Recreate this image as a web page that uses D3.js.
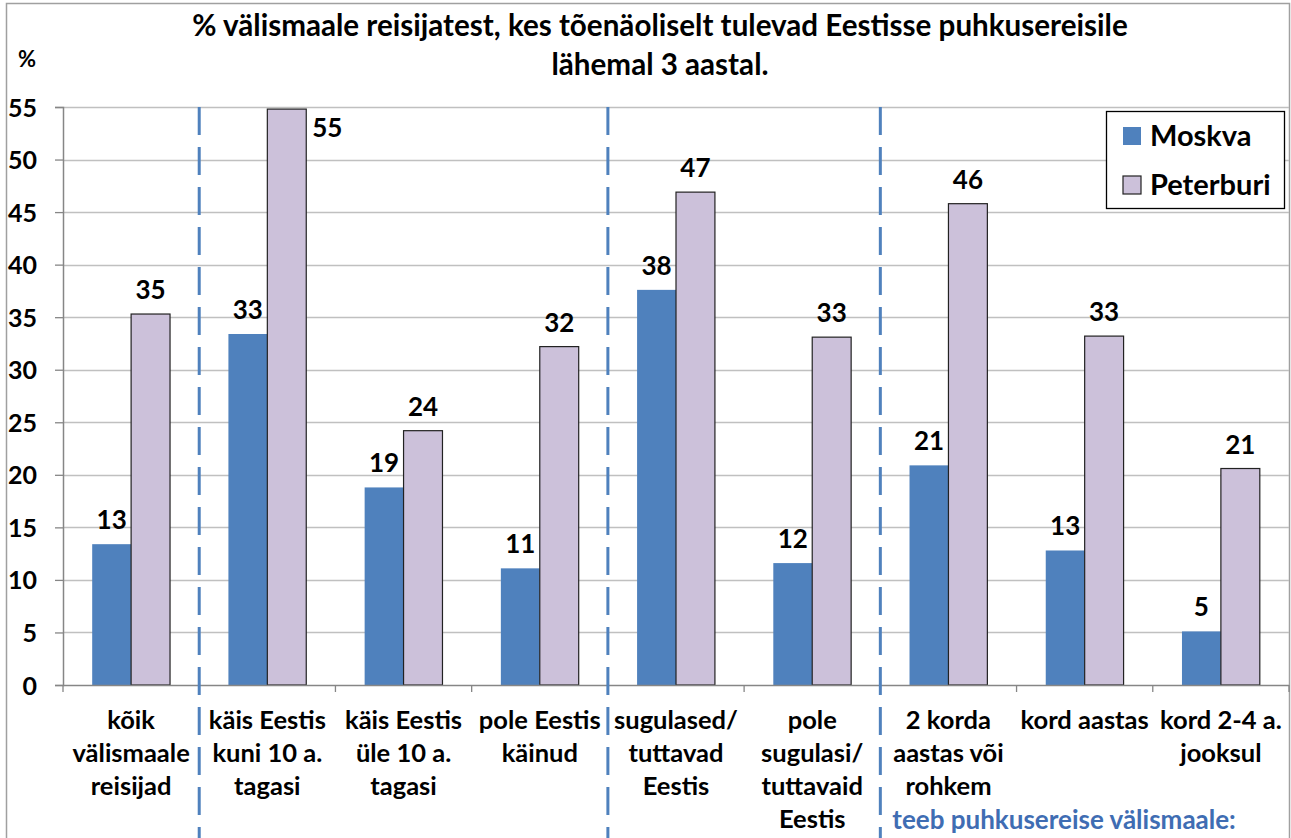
<!DOCTYPE html>
<html>
<head>
<meta charset="utf-8">
<script src="https://cdn.jsdelivr.net/npm/d3@7"></script>
<style>
  html, body { margin: 0; padding: 0; background: #fff; }
  svg { display: block; }
  text { font-family: Lato, "Open Sans", sans-serif; font-weight: bold; fill: #000; }
</style>
</head>
<body>
<svg id="chart" width="1291" height="838"></svg>
<script>
// Category labels (one entry per group, lines separated by "\n")
const categories = [
  "kõik\nvälismaale\nreisijad",
  "käis Eestis\nkuni 10 a.\ntagasi",
  "käis Eestis\nüle 10 a.\ntagasi",
  "pole Eestis\nkäinud",
  "sugulased/\ntuttavad\nEestis",
  "pole\nsugulasi/\ntuttavaid\nEestis",
  "2 korda\naastas või\nrohkem",
  "kord aastas",
  "kord 2-4 a.\njooksul"
];
const seriesNames = ["Moskva", "Peterburi"];
const moskva    = [13.4, 33.4, 18.8, 11.1, 37.6, 11.6, 20.9, 12.8, 5.1];
const peterburi = [35.3, 54.8, 24.2, 32.2, 46.9, 33.1, 45.8, 33.2, 20.6];
const yTicks = [0, 5, 10, 15, 20, 25, 30, 35, 40, 45, 50, 55];
// indices of group boundaries that get a dashed separator
const separators = [1, 4, 6];
const titleLines = [
  "% välismaale reisijatest, kes tõenäoliselt tulevad Eestisse puhkusereisile",
  "lähemal 3 aastal."
];
const groupNote = "teeb puhkusereise välismaale:";

const colors = { Moskva: "#4f81bd", Peterburi: "#ccc1da" };
const values = { Moskva: moskva, Peterburi: peterburi };

const svg = d3.select("#chart");
const W = 1291, H = 838;
const plot = { left: 63, right: 1289, top: 107, bottom: 685 };

// outer chart frame
svg.append("rect")
  .attr("x", 6.5).attr("y", 3.5)
  .attr("width", 1283).attr("height", H + 10)
  .attr("fill", "#fff").attr("stroke", "#a0a0a0").attr("stroke-width", 1.5);

const x0 = d3.scaleBand().domain(d3.range(categories.length))
  .range([plot.left, plot.right]).paddingInner(0).paddingOuter(0);
const x1 = d3.scaleBand().domain(seriesNames)
  .range([0, x0.bandwidth()]).paddingInner(0).paddingOuter(0.75);
const y = d3.scaleLinear().domain([0, 55]).range([plot.bottom, plot.top]);

// horizontal gridlines
svg.append("g").selectAll("line").data(yTicks.filter(d => d > 0)).join("line")
  .attr("x1", plot.left).attr("x2", plot.right)
  .attr("y1", d => Math.round(y(d)) + 0.5).attr("y2", d => Math.round(y(d)) + 0.5)
  .attr("stroke", "#c0c0c0").attr("stroke-width", 1.3);

// y axis
const yAxis = d3.axisLeft(y).tickValues(yTicks).tickSize(8).tickPadding(12).tickFormat(d3.format("d"));
const gy = svg.append("g").attr("transform", `translate(${plot.left},0)`).call(yAxis);
gy.select(".domain").attr("stroke", "#868686").attr("stroke-width", 1.5);
gy.selectAll(".tick line").attr("stroke", "#868686").attr("stroke-width", 1.3);
gy.selectAll(".tick text").attr("font-size", 25).attr("font-family", "Lato, sans-serif")
  .attr("font-weight", "bold").attr("fill", "#000").attr("x", -26).attr("dy", "0.36em");

// bars
const groups = svg.append("g").selectAll("g").data(categories).join("g")
  .attr("transform", (d, i) => `translate(${x0(i)},0)`);
groups.selectAll("rect").data((d, i) => seriesNames.map(s => ({ s, v: values[s][i] }))).join("rect")
  .attr("x", d => x1(d.s))
  .attr("width", x1.bandwidth())
  .attr("y", d => y(d.v))
  .attr("height", d => y(0) - y(d.v))
  .attr("fill", d => colors[d.s])
  .attr("stroke", d => d.s === "Peterburi" ? "#222" : "none")
  .attr("stroke-width", 1.2);

// value labels (a label that would hit the top edge moves beside its bar)
const beside = d => y(d.v) - 30 < plot.top;
groups.selectAll("text.val").data((d, i) => seriesNames.map(s => ({ s, v: values[s][i] }))).join("text")
  .attr("class", "val")
  .attr("font-size", 26)
  .attr("text-anchor", d => beside(d) ? "start" : "middle")
  .attr("x", d => beside(d) ? x1(d.s) + x1.bandwidth() + 6 : x1(d.s) + x1.bandwidth() / 2)
  .attr("y", d => beside(d) ? y(d.v) + 28 : y(d.v) - 15)
  .text(d => Math.round(d.v));

// x axis line and ticks at group boundaries
svg.append("line")
  .attr("x1", plot.left).attr("x2", plot.right)
  .attr("y1", plot.bottom + 0.5).attr("y2", plot.bottom + 0.5)
  .attr("stroke", "#868686").attr("stroke-width", 1.5);
svg.append("g").selectAll("line").data(d3.range(categories.length + 1)).join("line")
  .attr("x1", i => plot.left + i * x0.step()).attr("x2", i => plot.left + i * x0.step())
  .attr("y1", plot.bottom).attr("y2", plot.bottom + 7)
  .attr("stroke", "#868686").attr("stroke-width", 1.3);

// category labels
const catLabels = svg.append("g").selectAll("text").data(categories).join("text")
  .attr("font-size", 25.5)
  .attr("text-anchor", "middle")
  .attr("transform", (d, i) => `translate(${x0(i) + x0.bandwidth() / 2},729)`);
catLabels.selectAll("tspan").data(d => d.split("\n")).join("tspan")
  .attr("x", 0).attr("y", (d, j) => j * 33).text(d => d);

// dashed separators
svg.append("g").selectAll("line").data(separators).join("line")
  .attr("x1", i => plot.left + i * x0.step()).attr("x2", i => plot.left + i * x0.step())
  .attr("y1", plot.top).attr("y2", H)
  .attr("stroke", "#4f81bd").attr("stroke-width", 3)
  .attr("stroke-dasharray", "28,12");

// note under the last section
svg.append("text")
  .attr("x", plot.left + separators[2] * x0.step() + 12).attr("y", 829)
  .attr("font-size", 26).style("fill", "#3f6db3")
  .text(groupNote);

// title
svg.append("g").selectAll("text").data(titleLines).join("text")
  .attr("x", 660).attr("y", (d, i) => 36 + i * 39)
  .attr("text-anchor", "middle").attr("font-size", 29.6)
  .text(d => d);

// unit label
svg.append("text").attr("x", 27).attr("y", 67).attr("text-anchor", "middle")
  .attr("font-size", 22).text("%");

// legend
const lg = svg.append("g").attr("transform", "translate(1106,111)");
lg.append("rect").attr("x", 0.5).attr("y", 0.5).attr("width", 178).attr("height", 97)
  .attr("fill", "#fff").attr("stroke", "#000").attr("stroke-width", 1.3);
const li = lg.selectAll("g").data(seriesNames).join("g")
  .attr("transform", (d, i) => `translate(17,${16 + i * 49})`);
li.append("rect").attr("width", 18).attr("height", 18)
  .attr("fill", d => colors[d])
  .attr("stroke", d => d === "Peterburi" ? "#222" : "none").attr("stroke-width", 1.2);
li.append("text").attr("x", 27).attr("y", 19).attr("font-size", 29).text(d => d);
</script>
</body>
</html>
